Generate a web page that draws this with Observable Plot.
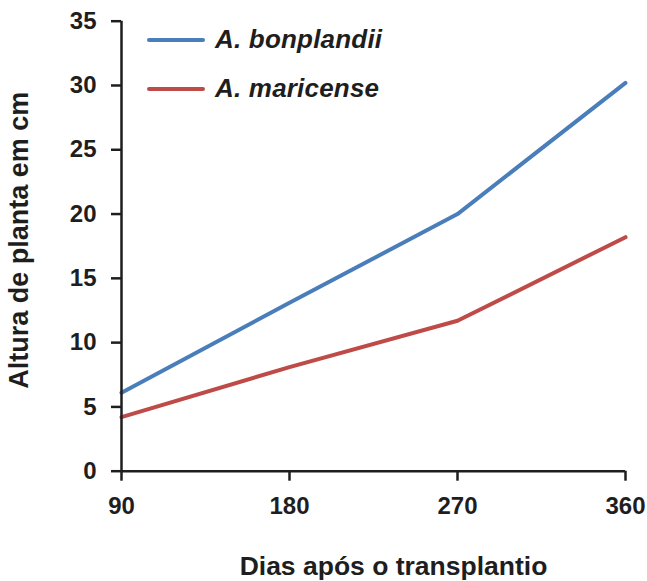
<!DOCTYPE html>
<html>
<head>
<meta charset="utf-8">
<script src="https://cdn.jsdelivr.net/npm/d3@7"></script>
<script src="https://cdn.jsdelivr.net/npm/@observablehq/plot@0.6"></script>
<style>
  body { margin: 0; background: #fff; font-family: "Liberation Sans", Arial, sans-serif; }
  #wrap { position: relative; width: 647px; height: 581px; }
  #legend { position: absolute; left: 0; top: 0; }
  .item { position: absolute; left: 147px; display: flex; align-items: center; font: italic bold 26px "Liberation Sans", Arial, sans-serif; color: #1e1e1e; white-space: nowrap; letter-spacing: 0.2px; }
  .sw { width: 58px; height: 4px; margin-right: 10px; border-radius: 2px; }
</style>
</head>
<body>
<div id="wrap"></div>
<script>
const days = [90, 180, 270, 360];
const bonplandii = [6.1, 13.1, 20.0, 30.2];
const maricense = [4.2, 8.1, 11.7, 18.2];
const seriesNames = ["A. bonplandii", "A. maricense"];
const seriesColors = ["#4a7ebb", "#be4b48"];
const yTicks = [0, 5, 10, 15, 20, 25, 30, 35];
const xTitle = "Dias após o transplantio";
const yTitle = "Altura de planta em cm";

const data = [];
days.forEach((d, i) => {
  data.push({day: d, value: bonplandii[i], series: seriesNames[0]});
  data.push({day: d, value: maricense[i], series: seriesNames[1]});
});

const ink = "#1e1e1e";
const chart = Plot.plot({
  width: 647,
  height: 581,
  marginLeft: 121,
  marginRight: 22,
  marginTop: 20.7,
  marginBottom: 110.3,
  style: {fontFamily: "'Liberation Sans', Arial, sans-serif", color: ink, background: "#fff", overflow: "visible"},
  x: {domain: [90, 360]},
  y: {domain: [0, 35]},
  color: {domain: seriesNames, range: seriesColors},
  marks: [
    Plot.axisY({ticks: yTicks, tickSize: 10, tickPadding: 15, fontSize: 24, fontWeight: "bold", strokeWidth: 2.5, stroke: ink, label: null}),
    Plot.axisX({ticks: days, tickSize: 10, tickPadding: 16, fontSize: 24, fontWeight: "bold", strokeWidth: 2.5, stroke: ink, label: null}),
    Plot.line(data, {x: "day", y: "value", stroke: "series", strokeWidth: 4, z: "series"}),
    Plot.ruleX([90], {stroke: ink, strokeWidth: 2.5}),
    Plot.ruleY([0], {stroke: ink, strokeWidth: 2.5}),
    Plot.text([xTitle], {frameAnchor: "bottom", textAnchor: "middle", lineAnchor: "middle", dx: 20, dy: 95, fontSize: 26.5, fontWeight: "bold", fill: ink}),
    Plot.text([yTitle], {frameAnchor: "left", textAnchor: "middle", lineAnchor: "middle", rotate: -90, dx: -102, dy: -6, fontSize: 27, fontWeight: "bold", fill: ink})
  ]
});

const wrap = document.getElementById("wrap");
wrap.appendChild(chart);
const legend = document.createElement("div");
legend.id = "legend";
const tops = [24, 73];
seriesNames.forEach((n, i) => {
  const it = document.createElement("div");
  it.className = "item";
  it.style.top = tops[i] + "px";
  const sw = document.createElement("span");
  sw.className = "sw";
  sw.style.background = seriesColors[i];
  const t = document.createElement("span");
  t.textContent = n;
  it.appendChild(sw);
  it.appendChild(t);
  legend.appendChild(it);
});
wrap.appendChild(legend);
</script>
</body>
</html>
